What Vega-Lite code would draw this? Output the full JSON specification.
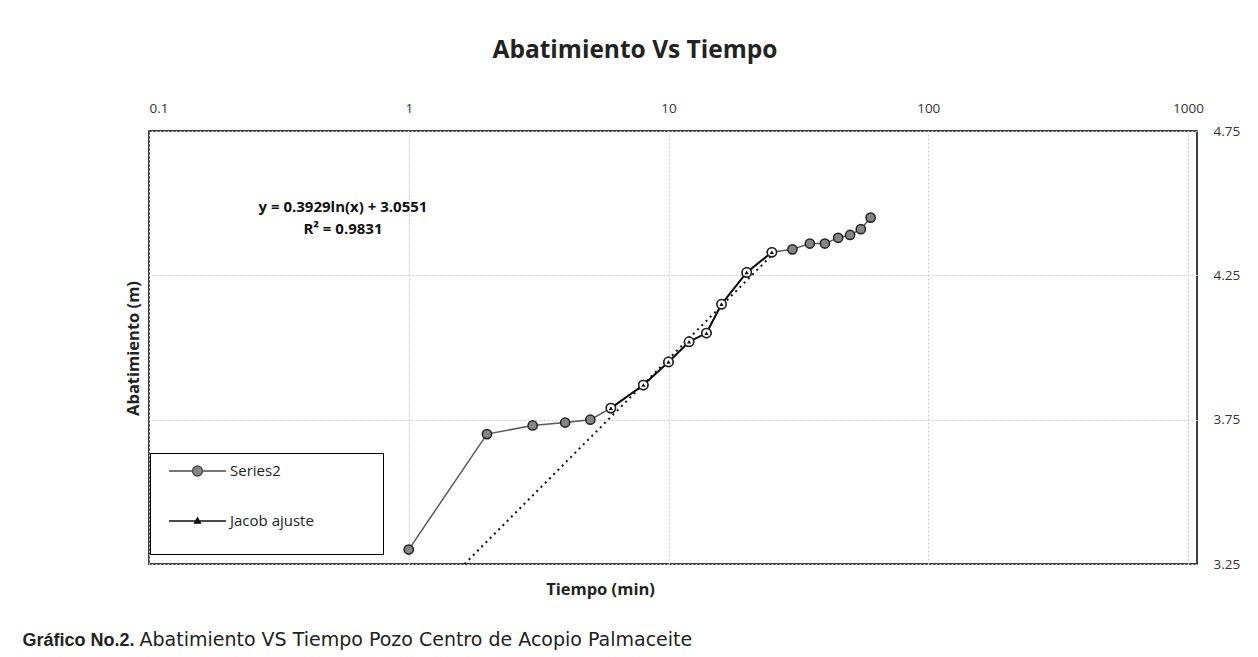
{
  "$schema": "https://vega.github.io/schema/vega-lite/v6.json",
  "width": 1048,
  "height": 433,
  "autosize": {"type": "none"},
  "padding": {"left": 149, "top": 131, "right": 61, "bottom": 93},
  "background": "#ffffff",
  "config": {
    "view": {"stroke": "#000000", "strokeWidth": 1.5},
    "font": "Open Sans"
  },
  "title": {
    "text": "Abatimiento Vs Tiempo",
    "anchor": "middle",
    "dx": -38,
    "offset": 38,
    "font": "Open Sans",
    "fontSize": 24.5,
    "fontWeight": "bold",
    "color": "#222222"
  },
  "datasets": {
    "s2": [
      {"t": 1, "s": 3.30},
      {"t": 2, "s": 3.70},
      {"t": 3, "s": 3.73},
      {"t": 4, "s": 3.74},
      {"t": 5, "s": 3.75},
      {"t": 6, "s": 3.79},
      {"t": 8, "s": 3.87},
      {"t": 10, "s": 3.95},
      {"t": 12, "s": 4.02},
      {"t": 14, "s": 4.05},
      {"t": 16, "s": 4.15},
      {"t": 20, "s": 4.26},
      {"t": 25, "s": 4.33},
      {"t": 30, "s": 4.34},
      {"t": 35, "s": 4.36},
      {"t": 40, "s": 4.36},
      {"t": 45, "s": 4.38},
      {"t": 50, "s": 4.39},
      {"t": 55, "s": 4.41},
      {"t": 60, "s": 4.45}
    ],
    "jac": [
      {"t": 6, "s": 3.79},
      {"t": 8, "s": 3.87},
      {"t": 10, "s": 3.95},
      {"t": 12, "s": 4.02},
      {"t": 14, "s": 4.05},
      {"t": 16, "s": 4.15},
      {"t": 20, "s": 4.26},
      {"t": 25, "s": 4.33}
    ],
    "trend": [
      {"t": 1.64, "s": 3.25},
      {"t": 25, "s": 4.32}
    ],
    "eq": [
      {"t": 0.558, "s": 4.485, "label": "y = 0.3929ln(x) + 3.0551"},
      {"t": 0.558, "s": 4.41, "label": "R² = 0.9831"}
    ],
    "leg": [
      {"series": "Series2"},
      {"series": "Jacob ajuste"}
    ]
  },
  "resolve": {"axis": {"x": "independent", "y": "independent"}},
  "layer": [
    {
      "data": {"name": "s2"},
      "mark": {"type": "line", "color": "#5a5a5a", "strokeWidth": 1.5},
      "encoding": {
        "x": {
          "field": "t", "type": "quantitative",
          "scale": {"type": "log", "domain": [0.1, 1083], "nice": false},
          "axis": {
            "orient": "top",
            "values": [0.1, 1, 10, 100, 1000],
            "format": "~g",
            "grid": true, "gridColor": "#c8c8c8", "gridDash": [2, 2], "gridWidth": 1,
            "ticks": false, "domain": false,
            "labelPadding": 16, "labelFont": "Open Sans", "labelFontSize": 13.5, "labelColor": "#333333",
            "title": "Tiempo (min)",
            "titleX": 451, "titleY": 463,
            "titleAlign": "center", "titleBaseline": "alphabetic",
            "titleFont": "Open Sans", "titleFontSize": 16.5, "titleFontWeight": "bold", "titleColor": "#222222"
          }
        },
        "y": {
          "field": "s", "type": "quantitative",
          "scale": {"domain": [3.25, 4.75], "nice": false, "zero": false},
          "axis": {
            "orient": "right",
            "values": [3.25, 3.75, 4.25, 4.75],
            "format": ".2f",
            "grid": true, "gridColor": "#c8c8c8", "gridDash": [2, 2], "gridWidth": 1,
            "ticks": false, "domain": false,
            "labelPadding": 16, "labelFont": "Open Sans", "labelFontSize": 13.5, "labelColor": "#333333",
            "title": "Abatimiento (m)",
            "titleAngle": 270,
            "titleX": -1064, "titleY": 217,
            "titleAlign": "center", "titleBaseline": "middle",
            "titleFont": "Open Sans", "titleFontSize": 16.5, "titleFontWeight": "bold", "titleColor": "#222222"
          }
        }
      }
    },
    {
      "data": {"name": "jac"},
      "mark": {"type": "line", "color": "#111111", "strokeWidth": 2},
      "encoding": {
        "x": {
          "field": "t", "type": "quantitative",
          "scale": {"type": "log", "domain": [0.1, 1083], "nice": false},
          "axis": {
            "orient": "bottom", "labels": false, "ticks": false, "domain": false, "grid": false,
            "title": "Abatimiento VS Tiempo Pozo Centro de Acopio Palmaceite",
            "titleX": -10, "titleY": 81,
            "titleAlign": "left", "titleBaseline": "alphabetic",
            "titleFont": "DejaVu Sans", "titleFontSize": 19, "titleFontWeight": "normal", "titleColor": "#222222"
          }
        },
        "y": {
          "field": "s", "type": "quantitative",
          "scale": {"domain": [3.25, 4.75], "nice": false, "zero": false},
          "axis": {
            "orient": "left", "labels": false, "ticks": false, "domain": false, "grid": false,
            "title": "Gráfico No.2.",
            "titleAngle": 0,
            "titleX": -127, "titleY": 514,
            "titleAlign": "left", "titleBaseline": "alphabetic",
            "titleFont": "Liberation Sans", "titleFontSize": 18, "titleFontWeight": "bold", "titleColor": "#222222"
          }
        }
      }
    },
    {
      "data": {"name": "trend"},
      "mark": {"type": "line", "color": "#111111", "strokeWidth": 2, "strokeDash": [2, 4]},
      "encoding": {
        "x": {"field": "t", "type": "quantitative", "scale": {"type": "log", "domain": [0.1, 1083], "nice": false}, "axis": null},
        "y": {"field": "s", "type": "quantitative", "scale": {"domain": [3.25, 4.75], "nice": false, "zero": false}, "axis": null}
      }
    },
    {
      "data": {"name": "s2"},
      "mark": {"type": "point", "shape": "circle", "filled": true, "fill": "#858585", "stroke": "#222222", "strokeWidth": 1.5, "size": 85, "opacity": 1},
      "encoding": {
        "x": {"field": "t", "type": "quantitative", "scale": {"type": "log", "domain": [0.1, 1083], "nice": false}, "axis": null},
        "y": {"field": "s", "type": "quantitative", "scale": {"domain": [3.25, 4.75], "nice": false, "zero": false}, "axis": null}
      }
    },
    {
      "data": {"name": "jac"},
      "mark": {"type": "point", "shape": "circle", "filled": true, "fill": "#ffffff", "stroke": "#222222", "strokeWidth": 1.5, "size": 85, "opacity": 1},
      "encoding": {
        "x": {"field": "t", "type": "quantitative", "scale": {"type": "log", "domain": [0.1, 1083], "nice": false}, "axis": null},
        "y": {"field": "s", "type": "quantitative", "scale": {"domain": [3.25, 4.75], "nice": false, "zero": false}, "axis": null}
      }
    },
    {
      "data": {"name": "jac"},
      "mark": {"type": "point", "shape": "triangle-up", "filled": true, "color": "#111111", "size": 18, "opacity": 1},
      "encoding": {
        "x": {"field": "t", "type": "quantitative", "scale": {"type": "log", "domain": [0.1, 1083], "nice": false}, "axis": null},
        "y": {"field": "s", "type": "quantitative", "scale": {"domain": [3.25, 4.75], "nice": false, "zero": false}, "axis": null}
      }
    },
    {
      "data": {"name": "eq"},
      "mark": {"type": "text", "font": "Open Sans", "fontSize": 15, "fontWeight": "bold", "color": "#111111", "align": "center", "baseline": "middle"},
      "encoding": {
        "x": {"field": "t", "type": "quantitative", "scale": {"type": "log", "domain": [0.1, 1083], "nice": false}, "axis": null},
        "y": {"field": "s", "type": "quantitative", "scale": {"domain": [3.25, 4.75], "nice": false, "zero": false}, "axis": null},
        "text": {"field": "label", "type": "nominal"}
      }
    },
    {
      "data": {"name": "leg"},
      "mark": {"type": "point", "filled": true, "opacity": 0, "size": 400, "strokeWidth": 1.3},
      "encoding": {
        "shape": {
          "field": "series", "type": "nominal",
          "scale": {
            "domain": ["Series2", "Jacob ajuste"],
            "range": [
              "M-2.85,0H-0.5M0.5,0H2.85M-0.5,0A0.5,0.5 0 1,0 0.5,0A0.5,0.5 0 1,0 -0.5,0Z",
              "M-2.85,0H2.85M0,-0.32L0.3,0.22H-0.3Z"
            ]
          },
          "legend": {
            "title": "\u00a0", "titleOrient": "right", "titlePadding": 62, "titleFontSize": 104,
            "orient": "none", "legendX": 1, "legendY": 322,
            "strokeColor": "#000000", "fillColor": "#ffffff", "padding": 7,
            "symbolSize": 400, "symbolStrokeWidth": 1.3, "symbolOpacity": 1,
            "symbolOffset": 29.5,
            "labelFont": "Open Sans", "labelFontSize": 15, "labelColor": "#222222", "labelOffset": 21.5,
            "rowPadding": 31
          }
        },
        "fill": {
          "field": "series", "type": "nominal",
          "scale": {"domain": ["Series2", "Jacob ajuste"], "range": ["#858585", "#111111"]},
          "legend": {
            "title": "\u00a0", "titleOrient": "right", "titlePadding": 62, "titleFontSize": 104,
            "orient": "none", "legendX": 1, "legendY": 322,
            "strokeColor": "#000000", "fillColor": "#ffffff", "padding": 7,
            "symbolSize": 400, "symbolStrokeWidth": 1.3, "symbolOpacity": 1,
            "symbolOffset": 29.5,
            "labelFont": "Open Sans", "labelFontSize": 15, "labelColor": "#222222", "labelOffset": 21.5,
            "rowPadding": 31
          }
        },
        "stroke": {
          "field": "series", "type": "nominal",
          "scale": {"domain": ["Series2", "Jacob ajuste"], "range": ["#4a4a4a", "#111111"]},
          "legend": {
            "title": "\u00a0", "titleOrient": "right", "titlePadding": 62, "titleFontSize": 104,
            "orient": "none", "legendX": 1, "legendY": 322,
            "strokeColor": "#000000", "fillColor": "#ffffff", "padding": 7,
            "symbolSize": 400, "symbolStrokeWidth": 1.3, "symbolOpacity": 1,
            "symbolOffset": 29.5,
            "labelFont": "Open Sans", "labelFontSize": 15, "labelColor": "#222222", "labelOffset": 21.5,
            "rowPadding": 31
          }
        }
      }
    }
  ]
}
